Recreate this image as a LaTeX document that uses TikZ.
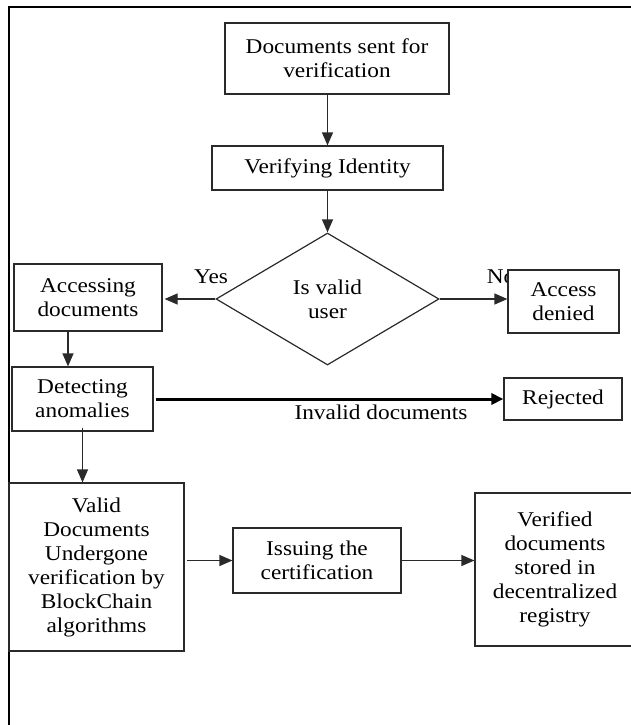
\documentclass[tikz,border=0pt]{standalone}
\usepackage{fontspec}
\setmainfont{Liberation Serif}[FakeStretch=1.11]
\usetikzlibrary{shapes.geometric,arrows.meta}
\definecolor{ink}{HTML}{2A2A2A}
\tikzset{
  box/.style={draw=ink, line width=1.2pt, fill=white, inner sep=0pt, align=center,
              text=black, font=\fontsize{21}{24}\selectfont},
  arr/.style={draw=ink, line width=1.2pt, -{Triangle[length=13pt,width=11pt]}},
  lbl/.style={inner sep=0pt, text=black, font=\fontsize{21}{24}\selectfont},
}
\begin{document}
\begin{tikzpicture}[x=1pt,y=-1pt]
\useasboundingbox (0,0) rectangle (631,725);
\begin{scope}
\clip (0,0) rectangle (631,725);
% frame
\draw[line width=2pt, draw=black] (9,730) -- (9,7) -- (640,7);

\node[box, minimum width=224pt, minimum height=71pt] (b1) at (337,58.5) {Documents sent for\\verification};
\node[box, minimum width=231pt, minimum height=44pt] (b2) at (327.5,168) {Verifying Identity};
\node[box, diamond, minimum width=223pt, minimum height=132pt] (dia) at (327.5,299) {Is valid\\user};
\node[box, minimum width=148pt, minimum height=67pt] (acc) at (88,297.5) {Accessing\\documents};
\node[lbl] (no) at (501,277) {No};
\node[box, minimum width=111pt, minimum height=63pt] (den) at (563.5,301.5) {Access\\denied};
\node[lbl] (yes) at (211,277) {Yes};
\node[box, minimum width=141pt, minimum height=64pt] (det) at (82.5,399) {Detecting\\anomalies};
\node[box, minimum width=118pt, minimum height=42pt] (rej) at (563,399) {Rejected};
\node[lbl] (inv) at (381,412) {Invalid documents};
\node[box, minimum width=175pt, minimum height=168pt] (val) at (96.5,567) {Valid\\Documents\\Undergone\\verification by\\BlockChain\\algorithms};
\node[box, minimum width=168pt, minimum height=65pt] (iss) at (317,560.5) {Issuing the\\certification};
\node[box, minimum width=160pt, minimum height=153pt] (ver) at (555,569.5) {Verified\\documents\\stored in\\decentralized\\registry};

\draw[arr] (b1.south -| dia.north) -- (b2.north -| dia.north);
\draw[arr] (b2.south -| dia.north) -- (dia.north);
\draw[arr] (dia.west) -- ([xshift=2pt]acc.east |- dia.west);
\draw[arr] (dia.east) -- (den.west |- dia.east);
\draw[arr] ([xshift=-20pt]acc.south) -- ([xshift=-20pt]acc.south |- det.north);
\draw[draw=black, line width=3pt, -{Triangle[length=12pt,width=11pt]}] ([xshift=2pt]det.east) -- (rej.west);
\draw[arr] ([yshift=4pt]det.south) -- (det.south |- val.north);
\draw[arr] ([xshift=2pt]val.east |- iss.west) -- (iss.west);
\draw[arr] (iss.east) -- (ver.west |- iss.east);
\end{scope}
\end{tikzpicture}
\end{document}
